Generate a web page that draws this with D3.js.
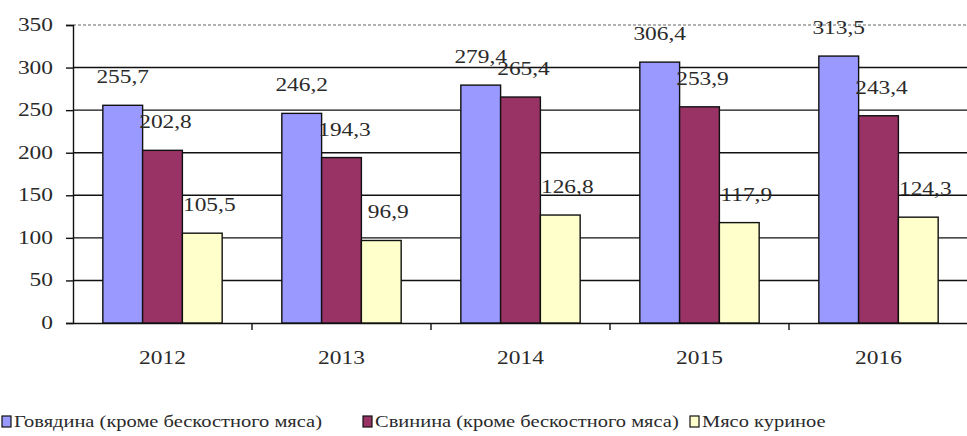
<!DOCTYPE html>
<html>
<head>
<meta charset="utf-8">
<script src="https://cdn.jsdelivr.net/npm/d3@7"></script>
<style>
  body { margin: 0; background: #fff; }
</style>
</head>
<body>
<script>
var years = ["2012", "2013", "2014", "2015", "2016"];
var seriesNames = ["Говядина (кроме бескостного мяса)", "Свинина (кроме бескостного мяса)", "Мясо куриное"];
var beef = [255.7, 246.2, 279.4, 306.4, 313.5];
var pork = [202.8, 194.3, 265.4, 253.9, 243.4];
var chicken = [105.5, 96.9, 126.8, 117.9, 124.3];
var yTicks = [0, 50, 100, 150, 200, 250, 300, 350];

var colors = ["#9999ff", "#993366", "#ffffcc"];
var labelDx = [0, 3, 7];
var sx = 1.3; // text in the picture looks stretched sideways

var width = 967;
var height = 436;

var svg = d3.select("body").append("svg")
  .attr("width", width)
  .attr("height", height)
  .attr("font-family", "Liberation Serif");

var x0 = d3.scaleBand()
  .domain(years)
  .range([73, 968])
  .paddingInner(0)
  .paddingOuter(0);

var x1 = d3.scaleBand()
  .domain([0, 1, 2])
  .range([0, x0.bandwidth()])
  .paddingInner(0)
  .paddingOuter(0.75);

var y = d3.scaleLinear()
  .domain([0, 350])
  .range([323, 25]);

// grid lines
svg.selectAll("line.grid")
  .data(yTicks.filter(function(d) { return d > 0; }))
  .enter().append("line")
  .attr("class", "grid")
  .attr("x1", 73)
  .attr("x2", 968)
  .attr("y1", function(d) { return y(d); })
  .attr("y2", function(d) { return y(d); })
  .style("stroke", function(d) { return d == 350 ? "#999" : "#111"; })
  .style("stroke-dasharray", function(d) { return d == 350 ? "3,2" : null; })
  .style("stroke-width", 1.4);

// y axis
var yAxis = svg.append("g")
  .attr("transform", "translate(73,0)")
  .call(d3.axisLeft(y).tickValues(yTicks).tickSize(7).tickPadding(0).tickFormat(function() { return ""; }));
yAxis.selectAll("line, path").style("stroke", "#111").style("stroke-width", 1.4);

function styleText(sel, size) {
  sel.attr("font-family", "Liberation Serif")
    .style("font-size", size + "px")
    .style("fill", "#2a2a2a");
}

svg.selectAll("text.ylab")
  .data(yTicks)
  .enter().append("text")
  .attr("class", "ylab")
  .attr("transform", function(d) { return "translate(53," + (y(d) + 6) + ") scale(" + sx + ",1)"; })
  .attr("text-anchor", "end")
  .call(styleText, 18)
  .text(function(d) { return d; });

// x axis with ticks at category boundaries
var xAxis = svg.append("g")
  .attr("transform", "translate(0,323)")
  .call(d3.axisBottom(x0).tickSize(0).tickFormat(function() { return ""; }));
xAxis.select("path").style("stroke", "#111").style("stroke-width", 1.4);

svg.selectAll("line.xtick")
  .data(years)
  .enter().append("line")
  .attr("class", "xtick")
  .attr("x1", function(d) { return x0(d) + x0.bandwidth(); })
  .attr("x2", function(d) { return x0(d) + x0.bandwidth(); })
  .attr("y1", 323)
  .attr("y2", 330)
  .style("stroke", "#111")
  .style("stroke-width", 1.4);

svg.selectAll("text.xlab")
  .data(years)
  .enter().append("text")
  .attr("class", "xlab")
  .attr("transform", function(d) { return "translate(" + (x0(d) + x0.bandwidth() / 2) + ",364) scale(" + sx + ",1)"; })
  .attr("text-anchor", "middle")
  .call(styleText, 18)
  .text(function(d) { return d; });

// bars
var allSeries = [beef, pork, chicken];
var groups = svg.selectAll("g.year")
  .data(years)
  .enter().append("g")
  .attr("class", "year")
  .attr("transform", function(d) { return "translate(" + x0(d) + ",0)"; });

groups.selectAll("rect")
  .data(function(d, i) { return allSeries.map(function(s, k) { return { k: k, v: s[i] }; }); })
  .enter().append("rect")
  .attr("x", function(d) { return x1(d.k); })
  .attr("y", function(d) { return y(d.v); })
  .attr("width", x1.bandwidth())
  .attr("height", function(d) { return y(0) - y(d.v); })
  .style("fill", function(d) { return colors[d.k]; })
  .style("stroke", "#111")
  .style("stroke-width", 1.4);

groups.selectAll("text")
  .data(function(d, i) { return allSeries.map(function(s, k) { return { k: k, v: s[i] }; }); })
  .enter().append("text")
  .attr("transform", function(d) {
    return "translate(" + (x1(d.k) + x1.bandwidth() / 2 + labelDx[d.k]) + "," + (y(d.v) - 22) + ") scale(" + sx + ",1)";
  })
  .attr("text-anchor", "middle")
  .call(styleText, 18)
  .text(function(d) { return d.v.toFixed(1).replace(".", ","); });

// legend
var legendX = [2, 363, 690];
var legend = svg.selectAll("g.legend")
  .data(seriesNames)
  .enter().append("g")
  .attr("class", "legend")
  .attr("transform", function(d, i) { return "translate(" + legendX[i] + ",416)"; });

legend.append("rect")
  .attr("width", 9)
  .attr("height", 11)
  .style("fill", function(d, i) { return colors[i]; })
  .style("stroke", "#111")
  .style("stroke-width", 1.2);

legend.append("text")
  .attr("transform", "translate(12,11) scale(1.28,1)")
  .call(styleText, 16)
  .text(function(d) { return d; });
</script>
</body>
</html>
